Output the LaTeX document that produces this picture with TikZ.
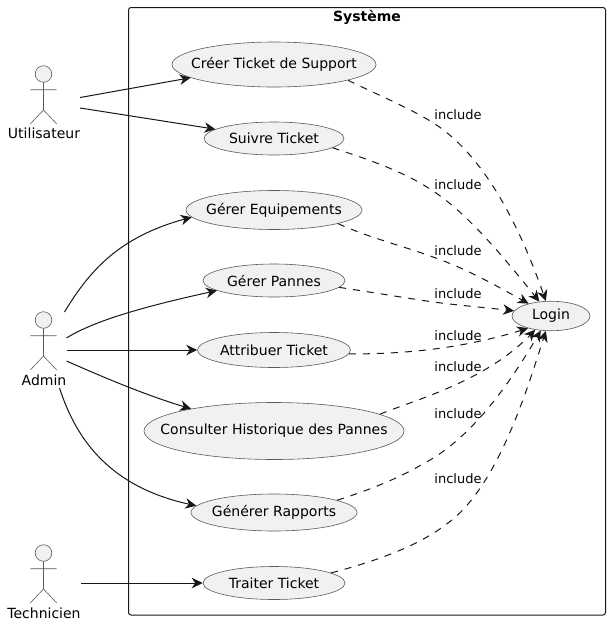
\documentclass[tikz,border=0pt]{standalone}
\usepackage{fontspec}
\setmainfont{DejaVu Sans}
\usetikzlibrary{arrows.meta,shapes.geometric,bending}
\definecolor{ink}{HTML}{181818}
\definecolor{thin}{HTML}{5A5A5A}
\definecolor{umlfill}{HTML}{F1F1F1}
\newcommand{\uctext}[1]{\makebox[0pt]{#1}}
\tikzset{
  basefont/.style={font=\fontsize{14}{16}\selectfont,text=black},
  usecase/.style n args={2}{ellipse,draw=thin,line width=0.6pt,fill=umlfill,inner sep=0pt,
    minimum width=#1pt,minimum height=#2pt,basefont},
  actorlabel/.style={basefont,inner sep=0pt,anchor=center},
  actorline/.style={draw=thin,line width=0.6pt},
  sysbox/.style={draw=ink,line width=1pt,rounded corners=2.5pt},
  assoc/.style={draw=ink,line width=1pt,-{Stealth[length=11pt,width=10.5pt,inset=3.5pt,fill=ink]}},
  incl/.style={assoc,dash pattern=on 7pt off 7pt},
  incllabel/.style={font=\fontsize{13}{15}\selectfont,text=black,inner sep=0pt}
}
\newcommand{\stick}[2]{%
  \draw[actorline,fill=umlfill] (#1,#2) circle[radius=8.3pt];
  \draw[actorline] (#1,#2+8.3) -- (#1,#2+36) (#1-13.2,#2+15.7) -- (#1+13.2,#2+15.7)
     (#1-13.2,#2+50) -- (#1,#2+36) -- (#1+13.2,#2+50);
}
\begin{document}
\begin{tikzpicture}[x=1pt,y=-1pt]
\useasboundingbox (0,0) rectangle (610,625);
\fill[white] (0,0) rectangle (610,625);
\draw[sysbox] (128.5,7.5) rectangle (605.5,615);
\node[basefont,inner sep=0pt,font=\fontsize{14}{16}\selectfont\bfseries] (title) at (367,17) {Système};

\stick{43.5}{74}
\stick{43.5}{320}
\stick{43.5}{553}
\node[actorlabel] (utilisateur) at (44,133) {Utilisateur};
\node[actorlabel] (admin) at (44,380) {Admin};
\node[actorlabel] (technicien) at (44,613) {Technicien};

\node[usecase={204}{45}] (creer) at (274,64.5) {\uctext{Créer Ticket de Support}};
\node[usecase={140}{33}] (suivre) at (274,138.5) {\uctext{Suivre Ticket}};
\node[usecase={176}{39}] (equip) at (274,210) {\uctext{Gérer Equipements}};
\node[usecase={142}{33}] (pannes) at (274,280.5) {\uctext{Gérer Pannes}};
\node[usecase={153}{35}] (attrib) at (274,350) {\uctext{Attribuer Ticket}};
\node[usecase={260}{57}] (consult) at (274,431) {\uctext{Consulter Historique des Pannes}};
\node[usecase={166}{37}] (generer) at (274,512.5) {\uctext{Générer Rapports}};
\node[usecase={142}{33}] (traiter) at (274,583) {\uctext{Traiter Ticket}};
\node[usecase={78}{29.5}] (login) at (551,316) {\uctext{Login}};

% actor associations
\draw[assoc] ([yshift=35.5pt]utilisateur.east) -- (creer.189.35);
\draw[assoc] ([yshift=25pt]utilisateur.east) -- (suivre.171.7);
\draw[assoc] ([xshift=-2pt,yshift=68pt]admin.east) .. controls (90,270) and (120,235) .. (equip.185.8);
\draw[assoc] ([yshift=42pt]admin.east) .. controls (95,320) and (150,305) .. (pannes.190.3);
\draw[assoc] ([yshift=30pt]admin.east) -- (attrib.180);
\draw[assoc] ([yshift=19pt]admin.east) .. controls (105,378) and (150,397) .. (consult.165);
\draw[assoc] ([xshift=-7pt,yshift=-8pt]admin.east) .. controls (78,445) and (115,490) .. (generer.175.7);
\draw[assoc] ([yshift=30pt]technicien.east) -- (traiter.180);

% includes
\draw[incl] (creer.-12.9) .. controls (380,96) and (410,108) .. (435,124)
   .. controls (490,160) and (525,240) .. (login.109);
\draw[incl] (suivre.-9.8) .. controls (370,160) and (405,172) .. (433,191)
   .. controls (470,215) and (510,265) .. (login.129);
\draw[incl] (equip.-12.9) .. controls (370,238) and (400,245) .. (433,257)
   .. controls (470,270) and (500,288) .. (login.151);
\draw[incl] (pannes.-6.7) .. controls (370,292) and (400,297) .. (433,302)
   .. controls (465,306) and (490,308) .. (login.172);
\draw[incl] (attrib.-3.5) .. controls (400,354) and (460,350) .. (login.208);
\draw[incl] (consult.9.8) .. controls (420,398) and (490,380) .. (login.-139);
\draw[incl] (generer.11.9) .. controls (385,485) and (410,472) .. (435,457)
   .. controls (480,428) and (515,375) .. (login.-125);
\draw[incl] (traiter.10.1) .. controls (380,560) and (420,545) .. (448,523)
   .. controls (500,485) and (530,380) .. (login.-109);

\node[incllabel] (l1) at (458,115) {include};
\node[incllabel] (l2) at (458,185) {include};
\node[incllabel] (l3) at (458,250.5) {include};
\node[incllabel] (l4) at (458,293.5) {include};
\node[incllabel] (l5) at (458,335.7) {include};
\node[incllabel] (l6) at (458,367) {include};
\node[incllabel] (l7) at (458,414) {include};
\node[incllabel] (l8) at (458,479) {include};
\end{tikzpicture}
\end{document}
